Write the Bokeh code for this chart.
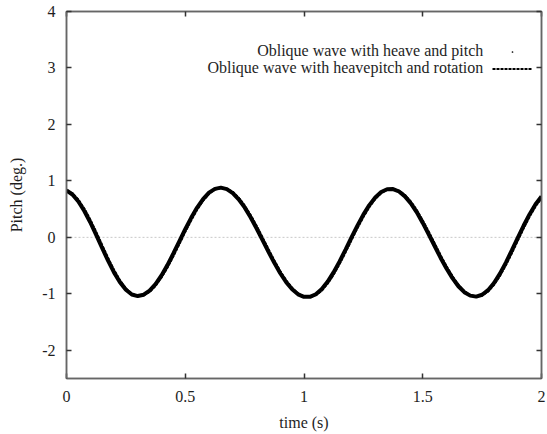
from bokeh.plotting import figure
from bokeh.models import (ColumnDataSource, FixedTicker, LinearAxis, Range1d, Span,
                          Label, Legend, LegendItem, CustomJSTickFormatter)
from bokeh.core.properties import value
from bokeh.embed import file_html
from bokeh.resources import INLINE

# ---- data ----
time_s = [0.0, 0.025, 0.05, 0.075, 0.1, 0.125, 0.15, 0.175, 0.2, 0.225,
          0.25, 0.275, 0.3, 0.325, 0.35, 0.375, 0.4, 0.425, 0.45, 0.475,
          0.5, 0.525, 0.55, 0.575, 0.6, 0.625, 0.65, 0.675, 0.7, 0.725,
          0.75, 0.775, 0.8, 0.825, 0.85, 0.875, 0.9, 0.925, 0.95, 0.975,
          1.0, 1.025, 1.05, 1.075, 1.1, 1.125, 1.15, 1.175, 1.2, 1.225,
          1.25, 1.275, 1.3, 1.325, 1.35, 1.375, 1.4, 1.425, 1.45, 1.475,
          1.5, 1.525, 1.55, 1.575, 1.6, 1.625, 1.65, 1.675, 1.7, 1.725,
          1.75, 1.775, 1.8, 1.825, 1.85, 1.875, 1.9, 1.925, 1.95, 1.975, 2.0]

pitch_heave_pitch = [0.832, 0.759, 0.635, 0.467, 0.267, 0.044, -0.188, -0.413, -0.620, -0.795,
                     -0.928, -1.012, -1.040, -1.016, -0.944, -0.828, -0.674, -0.492, -0.286, -0.071,
                     0.144, 0.346, 0.528, 0.677, 0.791, 0.859, 0.880, 0.854, 0.784, 0.674,
                     0.530, 0.356, 0.161, -0.044, -0.252, -0.452, -0.636, -0.794, -0.920, -1.009,
                     -1.054, -1.054, -1.008, -0.916, -0.784, -0.617, -0.425, -0.216, -0.001, 0.208,
                     0.402, 0.571, 0.706, 0.802, 0.852, 0.855, 0.812, 0.726, 0.601, 0.442,
                     0.256, 0.055, -0.153, -0.360, -0.552, -0.723, -0.866, -0.971, -1.032, -1.050,
                     -1.017, -0.936, -0.809, -0.643, -0.447, -0.232, -0.009, 0.209, 0.410, 0.586, 0.724]

pitch_heave_pitch_rotation = [0.820, 0.783, 0.670, 0.511, 0.318, 0.099, -0.133, -0.361, -0.574, -0.758,
                              -0.902, -0.999, -1.030, -1.028, -0.967, -0.860, -0.714, -0.539, -0.337, -0.123,
                              0.094, 0.300, 0.488, 0.645, 0.769, 0.848, 0.870, 0.862, 0.806, 0.704,
                              0.568, 0.400, 0.209, 0.006, -0.203, -0.406, -0.595, -0.760, -0.894, -0.993,
                              -1.049, -1.055, -1.025, -0.943, -0.820, -0.660, -0.473, -0.267, -0.052, 0.160,
                              0.358, 0.535, 0.678, 0.784, 0.846, 0.850, 0.827, 0.751, 0.635, 0.483,
                              0.302, 0.104, -0.103, -0.312, -0.508, -0.685, -0.836, -0.951, -1.023, -1.045,
                              -1.031, -0.961, -0.844, -0.686, -0.496, -0.285, -0.062, 0.159, 0.365, 0.548, 0.691]

series_labels = ["Oblique wave with heave and pitch",
                 "Oblique wave with heavepitch and rotation"]

x_ticks = [0, 0.5, 1, 1.5, 2]
x_tick_labels = ["0", "0.5", "1", "1.5", "2"]
y_ticks = [-2, -1, 0, 1, 2, 3, 4]
y_tick_labels = ["-2", "-1", "0", "1", "2", "3", "4"]
x_title = "time (s)"
y_title = "Pitch (deg.)"

FONT = "Liberation Serif"
FRAME = "#666666"
TXT = "#1e1e1e"

src = ColumnDataSource(dict(t=time_s, a=pitch_heave_pitch, b=pitch_heave_pitch_rotation))

p = figure(width=547, height=434, output_backend="svg", toolbar_location=None,
           x_range=Range1d(0, 2), y_range=Range1d(-2.5, 4),
           x_axis_label=x_title, y_axis_label=y_title)
p.min_border_left = 66
p.min_border_right = 6
p.min_border_top = 11
p.min_border_bottom = 56
p.xgrid.visible = False
p.ygrid.visible = False
p.outline_line_color = FRAME
p.outline_line_width = 1.5
p.background_fill_color = "white"
p.border_fill_color = "white"

def style_axis(ax, ticks, labels, show_labels=True):
    ax.ticker = FixedTicker(ticks=ticks)
    ax.minor_tick_line_color = None
    ax.major_tick_in = 5
    ax.major_tick_out = 0
    ax.major_tick_line_color = "#333333"
    ax.major_tick_line_width = 1.5
    ax.axis_line_color = FRAME
    ax.axis_line_width = 1.5
    if show_labels:
        ax.major_label_overrides = {tk: lb for tk, lb in zip(ticks, labels)}
        ax.major_label_text_font = FONT
        ax.major_label_text_font_size = "16px"
        ax.major_label_text_color = TXT
        ax.axis_label_text_font = FONT
        ax.axis_label_text_font_size = "16px"
        ax.axis_label_text_font_style = "normal"
        ax.axis_label_text_color = TXT
    else:
        ax.formatter = CustomJSTickFormatter(code="return ''")
        ax.major_label_text_font_size = "0px"
        ax.major_label_standoff = 0

style_axis(p.xaxis[0], x_ticks, x_tick_labels)
style_axis(p.yaxis[0], y_ticks, y_tick_labels)
p.xaxis[0].major_label_standoff = 12
p.xaxis[0].axis_label_standoff = 9
p.yaxis[0].major_label_standoff = 11
p.yaxis[0].axis_label_standoff = 14

top_ax = LinearAxis()
right_ax = LinearAxis()
style_axis(top_ax, x_ticks, x_tick_labels, show_labels=False)
style_axis(right_ax, y_ticks, y_tick_labels, show_labels=False)
p.add_layout(top_ax, "above")
p.add_layout(right_ax, "right")

zero = Span(location=0, dimension="width", line_color="#c8c8c8",
            line_dash="2 2", line_width=1, level="underlay")
p.add_layout(zero)

r1 = p.line("t", "a", source=src, line_color="black", line_width=4)
dots = p.scatter("t", "a", source=src, marker="dot", size=3, color="black")
r2 = p.line("t", "b", source=src, line_color="black", line_width=2, line_dash="3 1")

legend = Legend(items=[LegendItem(label=value(""), renderers=[dots]),
                       LegendItem(label=value(""), renderers=[r2])],
                location=(426, 301), glyph_width=40, glyph_height=17,
                label_height=17, label_width=0, label_standoff=0,
                spacing=0, padding=0, margin=0,
                border_line_color=None, background_fill_alpha=0)
p.add_layout(legend)

for lbl, yv in zip(series_labels, [3.31, 3.0]):
    p.add_layout(Label(x=1.755, y=yv, text=lbl, text_align="right",
                       text_baseline="middle", text_font=FONT,
                       text_font_size="16px", text_color=TXT))

open("out.html", "w").write(file_html(p, INLINE))
